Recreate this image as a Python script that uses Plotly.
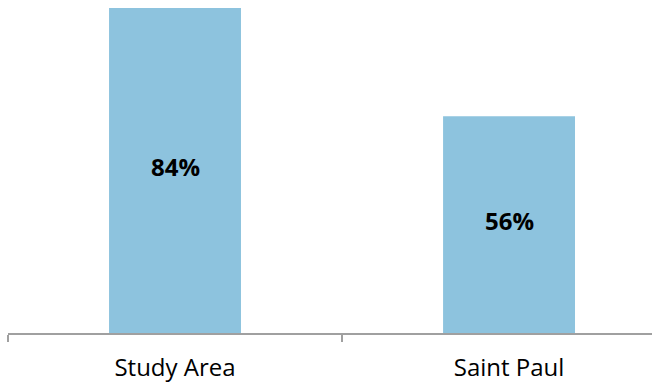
import plotly.graph_objects as go

categories = ["Study Area", "Saint Paul"]
values = [84, 56]
labels = ["84%", "56%"]

fig = go.Figure(go.Bar(
    x=categories, y=values,
    marker=dict(color="#8DC3DE", line=dict(width=0)),
    width=0.395, hoverinfo="skip",
))
for c, v, t in zip(categories, values, labels):
    fig.add_annotation(x=c, y=v / 2, text=t, showarrow=False, yshift=4,
                       xanchor="center", yanchor="middle",
                       font=dict(family="Open Sans", size=24, color="black", weight="bold"))
fig.update_layout(
    width=652, height=386,
    margin=dict(l=8, r=0, t=0, b=53),
    paper_bgcolor="white", plot_bgcolor="white",
    showlegend=False,
    xaxis=dict(range=[-0.5, 1.428], showline=True, linecolor="#A0A0A0", linewidth=2,
               ticks="outside", tickson="boundaries", ticklen=7, tickcolor="#A0A0A0",
               tickwidth=2, tickfont=dict(family="Open Sans", size=24, color="black"),
               ticklabelstandoff=12,
               showgrid=False, zeroline=False),
    yaxis=dict(range=[0, 86.07], visible=False, showgrid=False, zeroline=False),
)
fig.write_html("out.html")
